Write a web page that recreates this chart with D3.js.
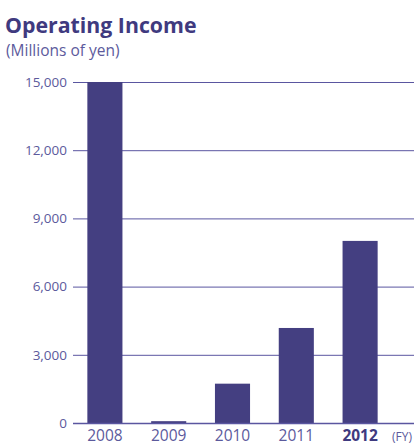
<!DOCTYPE html>
<html>
<head>
<meta charset="utf-8">
<script src="https://cdn.jsdelivr.net/npm/d3@7/dist/d3.min.js"></script>
<style>
  html, body { margin: 0; padding: 0; background: #fff; }
  svg { display: block; font-family: "Open Sans", "Noto Sans", sans-serif; }
</style>
</head>
<body>
<svg id="chart" width="414" height="446"></svg>
<script>
// Operating income by fiscal year (millions of yen)
const years = ["2008", "2009", "2010", "2011", "2012"];
const income = [15000, 80, 1730, 4180, 8010];
const yTicks = [0, 3000, 6000, 9000, 12000, 15000];

const svg = d3.select("#chart");
const W = 414;
const barColor = "#443f81";
const lineColor = "#5a56a0";
const textColor = "#5c5a9c";
const font = "\"Open Sans\", \"Noto Sans\", sans-serif";

const x = d3.scaleBand()
  .domain(years)
  .range([73, 392])
  .paddingInner(0.45)
  .paddingOuter(0.225);

const y = d3.scaleLinear()
  .domain([0, 15000])
  .range([423, 82]);

// Title block
svg.append("text")
  .attr("x", 5).attr("y", 33)
  .attr("fill", "#3f3a7f")
  .attr("font-size", 21.3)
  .attr("font-weight", 700)
  .text("Operating Income");

svg.append("text")
  .attr("x", 6).attr("y", 56)
  .attr("fill", textColor)
  .attr("font-size", 15.5)
  .text("(Millions of yen)");

// Horizontal grid lines with value labels
const yAxis = d3.axisLeft(y)
  .tickValues(yTicks)
  .tickFormat(d3.format(","))
  .tickSize(-(W - 73))
  .tickPadding(6);

const gy = svg.append("g")
  .attr("transform", "translate(73,0)")
  .call(yAxis);
gy.select(".domain").remove();
gy.selectAll(".tick line")
  .attr("stroke", lineColor)
  .attr("stroke-width", 1);
gy.selectAll(".tick text")
  .attr("fill", textColor)
  .attr("font-size", 13.5)
  .attr("font-family", font);

// Bars
svg.append("g")
  .selectAll("rect")
  .data(years)
  .join("rect")
  .attr("x", d => x(d))
  .attr("width", x.bandwidth())
  .attr("y", (d, i) => y(income[i]))
  .attr("height", (d, i) => y(0) - y(income[i]))
  .attr("fill", barColor);

// Zero baseline above the bars
svg.append("line")
  .attr("x1", 73).attr("x2", W)
  .attr("y1", y(0) + 0.5).attr("y2", y(0) + 0.5)
  .attr("stroke", lineColor)
  .attr("stroke-width", 1.5);

// Year labels
const xAxis = d3.axisBottom(x).tickSize(0).tickPadding(0);
const gx = svg.append("g")
  .attr("transform", `translate(0,${y(0)})`)
  .call(xAxis);
gx.select(".domain").remove();
gx.selectAll(".tick text")
  .attr("fill", textColor)
  .attr("font-size", 15.5)
  .attr("font-family", font)
  .attr("y", 18)
  .attr("dy", null)
  .filter(d => d === "2012")
  .attr("font-weight", 700)
  .attr("fill", "#3f3a7f");

svg.append("text")
  .attr("x", 412).attr("y", 441)
  .attr("text-anchor", "end")
  .attr("fill", textColor)
  .attr("font-size", 12)
  .text("(FY)");
</script>
</body>
</html>
